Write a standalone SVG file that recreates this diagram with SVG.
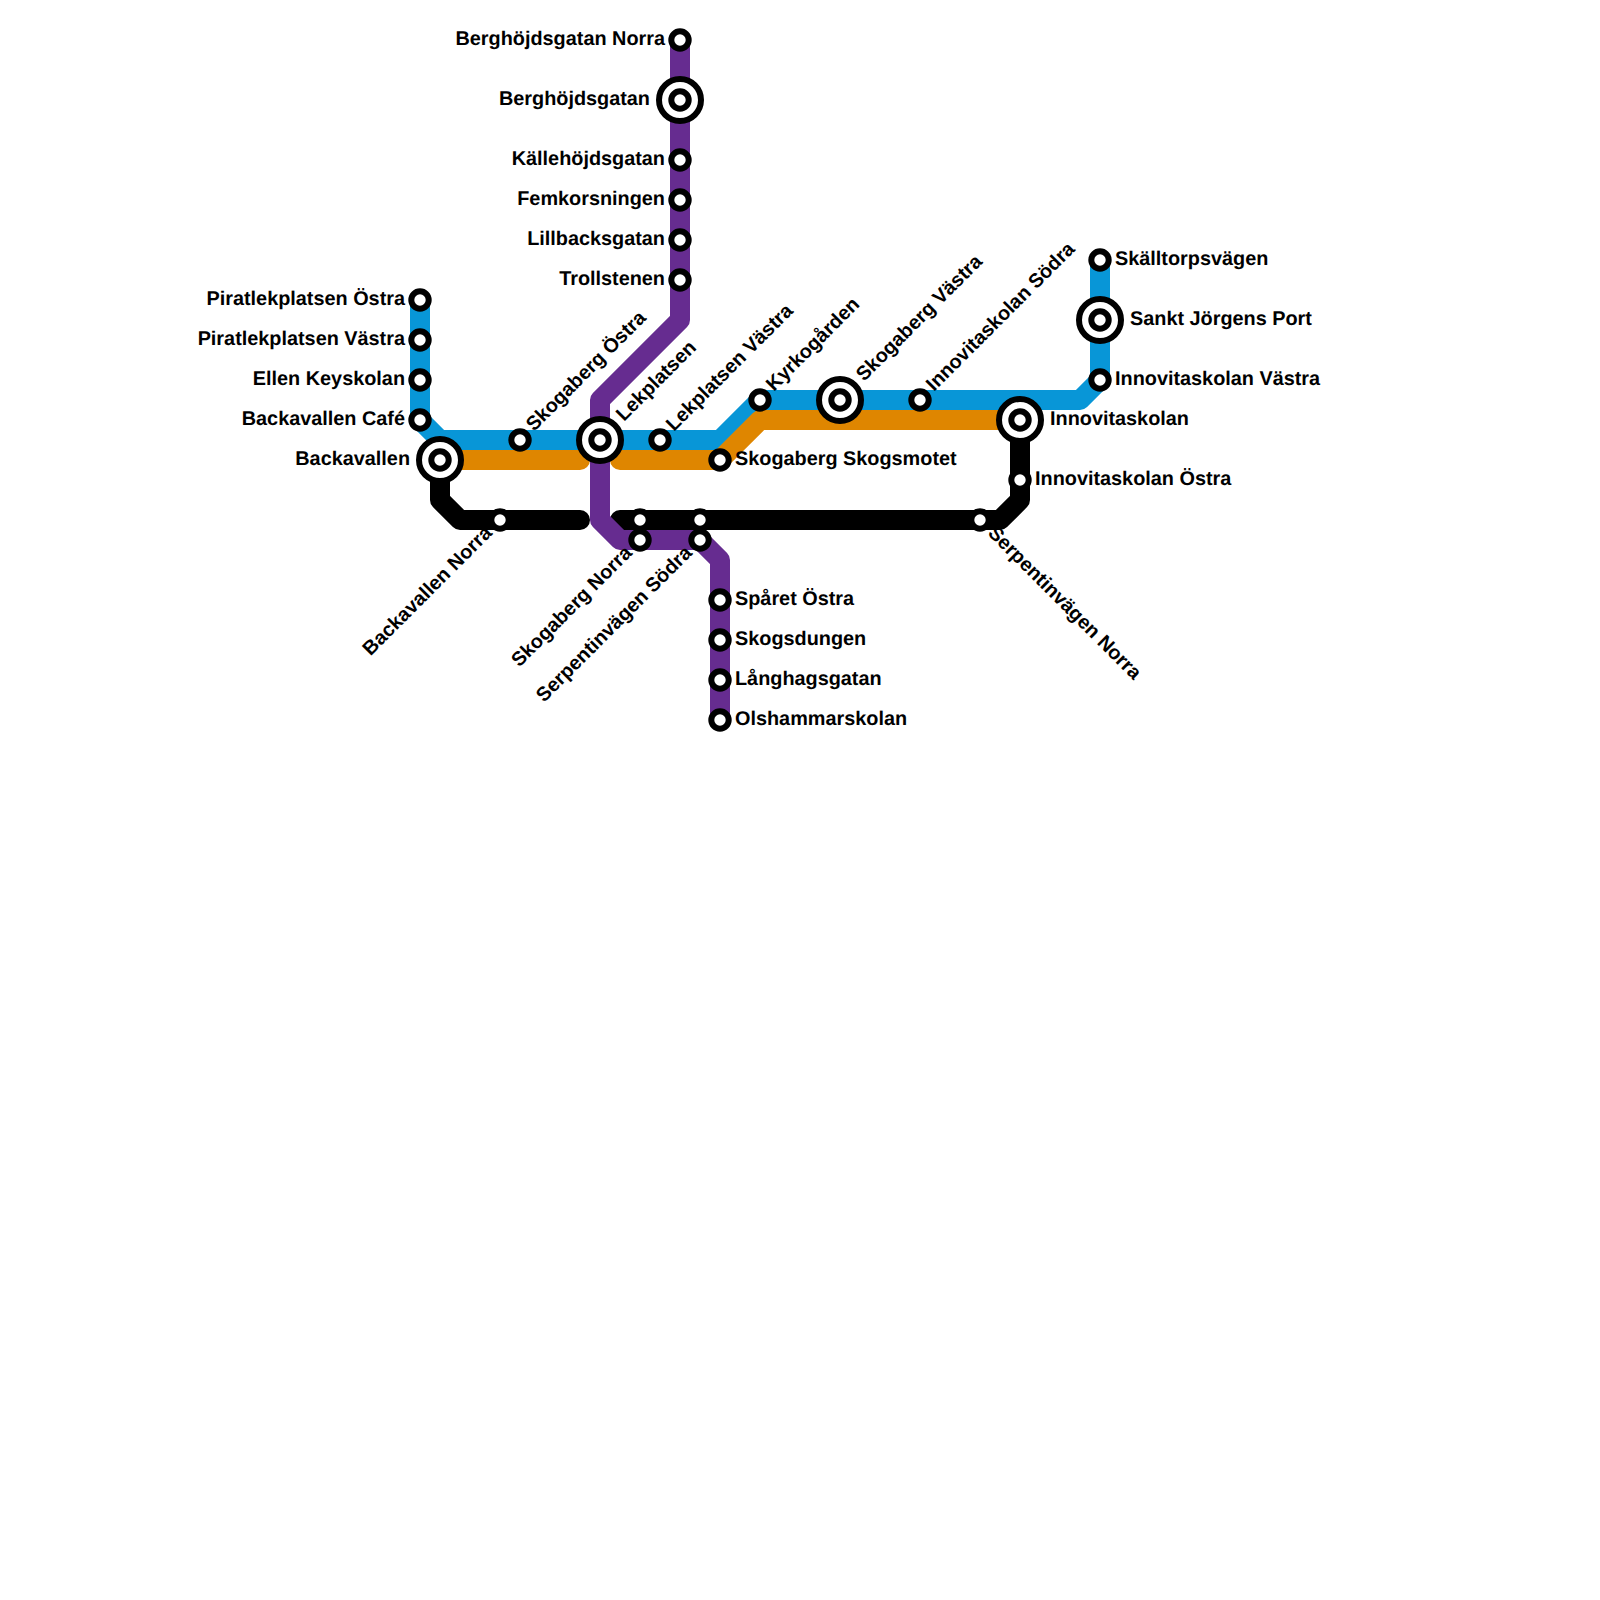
<svg xmlns="http://www.w3.org/2000/svg" width="1600" height="1600" viewBox="0 0 1600 1600">
<style>
.l{fill:none;stroke-width:20;stroke-linejoin:round;stroke-linecap:round}
.s{fill:#fff;stroke:#000;stroke-width:6}
text{font-family:"Liberation Sans",Arial,sans-serif;font-weight:700;font-size:19.85px;fill:#000;text-rendering:geometricPrecision}
.e{text-anchor:end}
</style>
<rect width="1600" height="1600" fill="#fff"/>
<g id="connectors">
<path class="l" stroke="#0896d7" d="M420 300V420L440 440H720L760 400H1080L1100 380V260"/>
<path class="l" stroke="#df8600" d="M440 460H580M620 460H720L760 420H1020"/>
<path class="l" stroke="#000" d="M440 460V500L460 520H580M620 520H1000L1020 500V420"/>
<path class="l" stroke="#662c90" d="M680 40V320L600 400V520L620 540H700L720 560V720"/>
</g>
<defs>
<g id="st"><circle class="s" r="8.7"/></g>
<g id="ic"><circle class="s" r="21"/><circle class="s" r="8.7"/></g>
</defs>
<g id="n1"><use href="#st" x="420" y="300"/><text class="e" x="405" y="304.6">Piratlekplatsen Östra</text></g>
<g id="n2"><use href="#st" x="420" y="340"/><text class="e" x="405" y="344.6">Piratlekplatsen Västra</text></g>
<g id="n3"><use href="#st" x="420" y="380"/><text class="e" x="405" y="384.6">Ellen Keyskolan</text></g>
<g id="n4"><use href="#st" x="420" y="420"/><text class="e" x="405" y="424.6">Backavallen Café</text></g>
<g id="n5"><use href="#ic" x="440" y="460"/><text class="e" x="410" y="464.6">Backavallen</text></g>
<g id="n6"><use href="#st" x="520" y="440"/><text transform="translate(534 432) rotate(-45)">Skogaberg Östra</text></g>
<g id="n7"><use href="#ic" x="600" y="440"/><text transform="translate(624 422) rotate(-45)">Lekplatsen</text></g>
<g id="n8"><use href="#st" x="660" y="440"/><text transform="translate(674 432) rotate(-45)">Lekplatsen Västra</text></g>
<g id="n9"><use href="#st" x="720" y="460"/><text x="735" y="464.6">Skogaberg Skogsmotet</text></g>
<g id="n10"><use href="#st" x="760" y="400"/><text transform="translate(774 392) rotate(-45)">Kyrkogården</text></g>
<g id="n11"><use href="#ic" x="840" y="400"/><text transform="translate(864 382) rotate(-45)">Skogaberg Västra</text></g>
<g id="n12"><use href="#st" x="920" y="400"/><text transform="translate(934 392) rotate(-45)">Innovitaskolan Södra</text></g>
<g id="n13"><use href="#ic" x="1020" y="420"/><text x="1050" y="424.6">Innovitaskolan</text></g>
<g id="n14"><use href="#st" x="1100" y="380"/><text x="1115" y="384.6">Innovitaskolan Västra</text></g>
<g id="n15"><use href="#ic" x="1100" y="320"/><text x="1130" y="324.6">Sankt Jörgens Port</text></g>
<g id="n16"><use href="#st" x="1100" y="260"/><text x="1115" y="264.6">Skälltorpsvägen</text></g>
<g id="n17"><use href="#st" x="1020" y="480"/><text x="1035" y="484.6">Innovitaskolan Östra</text></g>
<g id="n18"><use href="#st" x="980" y="520"/><text transform="translate(987 534) rotate(45)">Serpentinvägen Norra</text></g>
<g id="n19"><use href="#st" x="700" y="520"/></g>
<g id="n20"><use href="#st" x="640" y="520"/></g>
<g id="n21"><use href="#st" x="500" y="520"/><text class="e" transform="translate(493 534) rotate(-45)">Backavallen Norra</text></g>
<g id="n22"><use href="#st" x="640" y="540"/><text class="e" transform="translate(633 554) rotate(-45)">Skogaberg Norra</text></g>
<g id="n23"><use href="#st" x="700" y="540"/><text class="e" transform="translate(693 554) rotate(-45)">Serpentinvägen Södra</text></g>
<g id="n24"><use href="#st" x="680" y="40"/><text class="e" x="665" y="44.6">Berghöjdsgatan Norra</text></g>
<g id="n25"><use href="#ic" x="680" y="100"/><text class="e" x="650" y="104.6">Berghöjdsgatan</text></g>
<g id="n26"><use href="#st" x="680" y="160"/><text class="e" x="665" y="164.6">Källehöjdsgatan</text></g>
<g id="n27"><use href="#st" x="680" y="200"/><text class="e" x="665" y="204.6">Femkorsningen</text></g>
<g id="n28"><use href="#st" x="680" y="240"/><text class="e" x="665" y="244.6">Lillbacksgatan</text></g>
<g id="n29"><use href="#st" x="680" y="280"/><text class="e" x="665" y="284.6">Trollstenen</text></g>
<g id="n30"><use href="#st" x="720" y="600"/><text x="735" y="604.6">Spåret Östra</text></g>
<g id="n31"><use href="#st" x="720" y="640"/><text x="735" y="644.6">Skogsdungen</text></g>
<g id="n32"><use href="#st" x="720" y="680"/><text x="735" y="684.6">Långhagsgatan</text></g>
<g id="n33"><use href="#st" x="720" y="720"/><text x="735" y="724.6">Olshammarskolan</text></g>
</svg>
